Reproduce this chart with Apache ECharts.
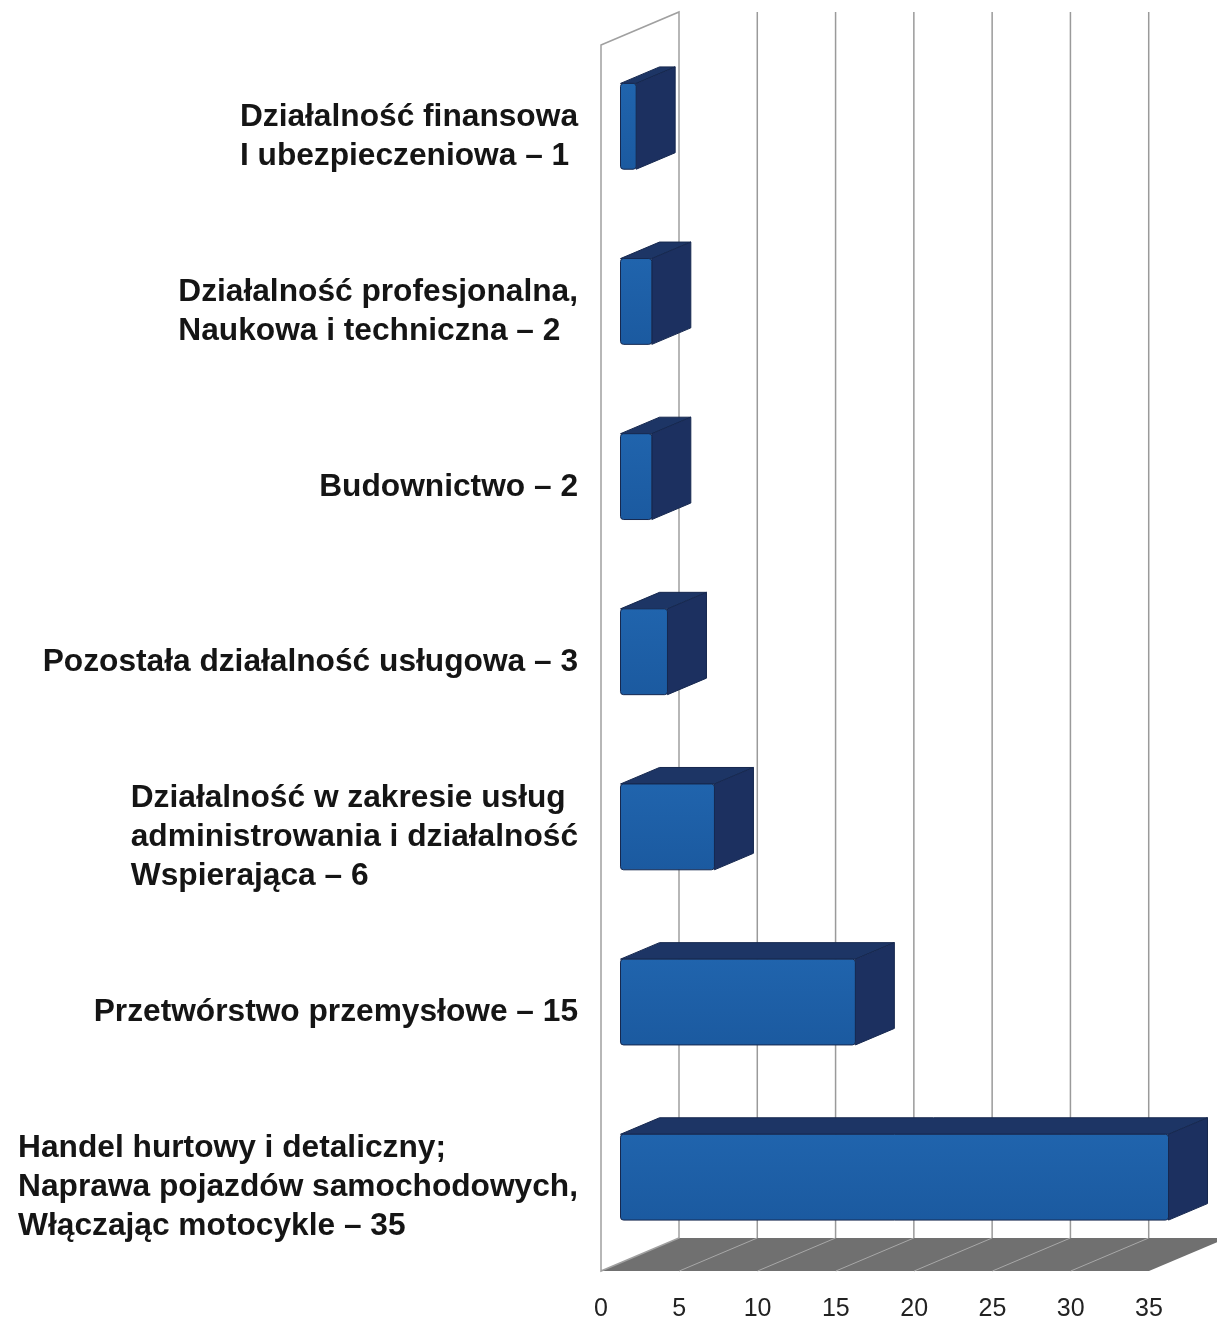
<!DOCTYPE html>
<html>
<head>
<meta charset="utf-8">
<script src="https://cdn.jsdelivr.net/npm/echarts@6/dist/echarts.min.js"></script>
<style>
    html, body { margin: 0; padding: 0; background: #fff; }
    #chart { width: 1217px; height: 1322px; }
</style>
</head>
<body>
<div id="chart"></div>
<script>
// ---------------------- 数据 ----------------------
const categories = [
    'Działalność finansowa\nI ubezpieczeniowa – 1',
    'Działalność profesjonalna,\nNaukowa i techniczna – 2',
    'Budownictwo – 2',
    'Pozostała działalność usługowa – 3',
    'Działalność w zakresie usług\nadministrowania i działalność\nWspierająca – 6',
    'Przetwórstwo przemysłowe – 15',
    'Handel hurtowy i detaliczny;\nNaprawa pojazdów samochodowych,\nWłączając motocykle – 35'
];
const values = [1, 2, 2, 3, 6, 15, 35];
const tickLabels = [0, 5, 10, 15, 20, 25, 30, 35];

// 3D depth of the box (back wall offset, px)
const DX = 78, DY = -33;
const LABEL_FONT = 'bold 31.7px "Liberation Sans", Arial, sans-serif';

const chart = echarts.init(document.getElementById('chart'));

// measure widest line so the block can sit right-aligned while lines stay left-aligned
const measureCtx = document.createElement('canvas').getContext('2d');
function blockWidth(text) {
    measureCtx.font = LABEL_FONT;
    return Math.max(...text.split('\n').map(s => measureCtx.measureText(s).width));
}

// walls + floor + gridlines
function renderFrame(params, api) {
    const cs = params.coordSys;
    const left = cs.x, top = cs.y, right = cs.x + cs.width, bottom = cs.y + cs.height;
    const children = [];
    children.push({
        type: 'polygon',
        shape: { points: [[left, bottom], [right, bottom], [right + DX, bottom + DY], [left + DX, bottom + DY]] },
        style: { fill: '#707070' }
    });
    tickLabels.slice(1, -1).forEach(t => {
        const x = api.coord([t, 0])[0];
        children.push({
            type: 'line',
            shape: { x1: x, y1: bottom, x2: x + DX, y2: bottom + DY },
            style: { stroke: '#a8a8a8', lineWidth: 1 }
        });
    });
    children.push({
        type: 'polygon',
        shape: { points: [[left, top], [left + DX, top + DY], [left + DX, bottom + DY], [left, bottom]] },
        style: { fill: '#fff', stroke: '#a0a0a0', lineWidth: 1.5 }
    });
    tickLabels.slice(1).forEach(t => {
        const x = api.coord([t, 0])[0] + DX;
        children.push({
            type: 'line',
            shape: { x1: x, y1: top + DY, x2: x, y2: bottom + DY },
            style: { stroke: '#9a9a9a', lineWidth: 1.5 }
        });
    });
    return { type: 'group', children };
}

// 3D bar: front face, top face, right face
function renderBar(params, api) {
    const v = api.value(0), idx = api.value(1);
    const c0 = api.coord([0, idx]);
    const c1 = api.coord([v, idx]);
    const band = api.size([0, 1])[1];
    const h = band * 0.49;
    const fx = DX * 0.25, fy = DY * 0.25;
    const dx = DX * 0.5, dy = DY * 0.5;
    const x0 = c0[0] + fx, x1 = c1[0] + fx;
    const yT = c0[1] + fy - h / 2 + 2, yB = yT + h;
    const edge = { stroke: '#16284f', lineWidth: 1, lineJoin: 'round' };
    return {
        type: 'group',
        children: [
            {
                type: 'polygon',
                shape: { points: [[x0, yT], [x1, yT], [x1 + dx, yT + dy], [x0 + dx, yT + dy]] },
                style: Object.assign({ fill: '#1d3565' }, edge)
            },
            {
                type: 'polygon',
                shape: { points: [[x1, yT], [x1 + dx, yT + dy], [x1 + dx, yB + dy], [x1, yB]] },
                style: Object.assign({ fill: '#1c3060' }, edge)
            },
            {
                type: 'rect',
                shape: { x: x0, y: yT, width: x1 - x0, height: h, r: 3 },
                style: Object.assign({
                    fill: new echarts.graphic.LinearGradient(0, 0, 0, 1, [
                        { offset: 0, color: '#2064ad' },
                        { offset: 1, color: '#1b5aa0' }
                    ])
                }, edge)
            }
        ]
    };
}

function renderLabel(params, api) {
    const idx = api.value(1);
    const text = categories[idx];
    const c0 = api.coord([0, idx]);
    return {
        type: 'text',
        x: c0[0] - 23 - blockWidth(text),
        y: c0[1] + 4,
        style: {
            text: text,
            font: LABEL_FONT,
            fill: '#151515',
            align: 'left',
            verticalAlign: 'middle',
            lineHeight: 39
        }
    };
}

const barData = values.map((v, i) => [v, i]);

chart.setOption({
    animation: false,
    grid: { left: 601, right: 68, top: 45, bottom: 51 },
    xAxis: {
        type: 'value',
        min: 0,
        max: 35,
        interval: 5,
        axisLine: { show: false },
        axisTick: { show: false },
        splitLine: { show: false },
        axisLabel: {
            margin: 26,
            fontSize: 25,
            color: '#222',
            fontFamily: '"Liberation Sans", Arial, sans-serif'
        }
    },
    yAxis: {
        type: 'category',
        inverse: true,
        data: categories,
        axisLine: { show: false },
        axisTick: { show: false },
        axisLabel: { show: false },
        splitLine: { show: false }
    },
    series: [
        { type: 'custom', renderItem: renderFrame, data: [[0, 0]], z: 1, silent: true },
        { type: 'custom', renderItem: renderBar, data: barData, z: 2, encode: { x: 0, y: 1 } },
        { type: 'custom', renderItem: renderLabel, data: barData, z: 3, silent: true }
    ]
});
</script>
</body>
</html>
